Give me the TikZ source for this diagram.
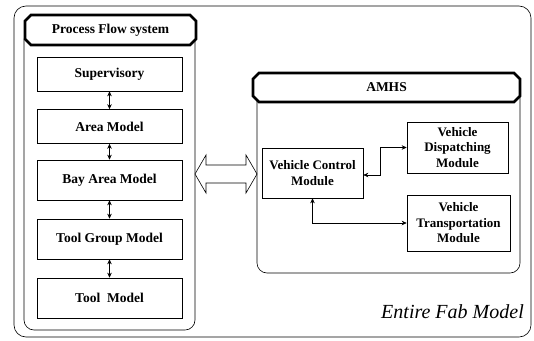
\documentclass[tikz,border=0pt]{standalone}
\usepackage{fontspec}
\setmainfont{Liberation Serif}
\usetikzlibrary{arrows.meta,shapes.misc}

\begin{document}
\begin{tikzpicture}[x=1pt,y=-1pt,
    box/.style={draw,line width=0.6pt,fill=white,inner sep=1pt,
      font=\bfseries\fontsize{13.5}{15}\selectfont},
    module/.style={draw,line width=0.6pt,fill=white,align=center,inner sep=1pt,
      font=\bfseries\fontsize{13}{15.5}\selectfont},
    header/.style={chamfered rectangle,chamfered rectangle xsep=3pt,
      chamfered rectangle ysep=3pt,draw,line width=2.8pt,fill=white,inner sep=0pt,
      font=\bfseries\fontsize{13.5}{15}\selectfont},
    link/.style={line width=0.6pt,{Stealth[length=5pt,width=4.5pt]}-{Stealth[length=5pt,width=4.5pt]}}]
    \useasboundingbox (0,0) rectangle (534,340);

    % Drawing outer frame
    \draw [line width=0.6pt,rounded corners=12pt] (14,6) rectangle (531,337);%

    % Drawing process flow panel
    \draw [line width=0.6pt,rounded corners=10pt] (24,30) rectangle (195,330);%
    \node [header,minimum width=171pt,minimum height=30pt] (hdrpfs) at (110.5,30) {Process Flow system};%

    \node [box,minimum width=145pt,minimum height=34pt] (sup) at (109.5,74) {Supervisory};%
    \node [box,minimum width=145pt,minimum height=34pt] (area) at (109.5,126.5) {Area Model};%
    \node [box,minimum width=145pt,minimum height=40pt] (bay) at (109.5,180) {Bay Area Model};%
    \node [box,minimum width=145pt,minimum height=40pt] (toolgrp) at (109.5,239) {Tool Group Model};%
    \node [box,minimum width=145pt,minimum height=40pt] (tool) at (109.5,298) {Tool\ \ Model};%

    \draw [link] (sup) -- (area);%
    \draw [link] (area) -- (bay);%
    \draw [link] (bay) -- (toolgrp);%
    \draw [link] (toolgrp) -- (tool);%

    % Drawing hollow arrow between panels
    \draw [line width=0.6pt,fill=white] (195,174) -- (206,155) -- (206,165) -- (246,165)
      -- (246,155) -- (257,174) -- (246,193) -- (246,183) -- (206,183) -- (206,193) -- cycle;%

    % Drawing AMHS panel
    \draw [line width=0.6pt,rounded corners=10pt] (257,87) rectangle (520,273);%
    \node [header,minimum width=267pt,minimum height=29pt] (hdramhs) at (386.5,87.5) {AMHS};%

    \node [module,minimum width=101pt,minimum height=50pt] (vcm) at (312.5,173) {Vehicle Control\\Module};%
    \node [module,minimum width=101pt,minimum height=51pt] (vdm) at (457.5,147.5) {Vehicle\\Dispatching\\Module};%
    \node [module,minimum width=103pt,minimum height=56pt] (vtm) at (458.5,223) {Vehicle\\Transportation\\Module};%

    \draw [link] ([yshift=-2pt]vcm.east) -- ++(17,0) |- (vdm.west);%
    \draw [link] (vcm.south) |- (vtm.west);%

    % Marking the caption
    \node [anchor=base east,inner sep=0pt,font=\itshape\fontsize{20}{24}\selectfont] (fab) at (524,318) {Entire Fab Model};%
\end{tikzpicture}
\end{document}
